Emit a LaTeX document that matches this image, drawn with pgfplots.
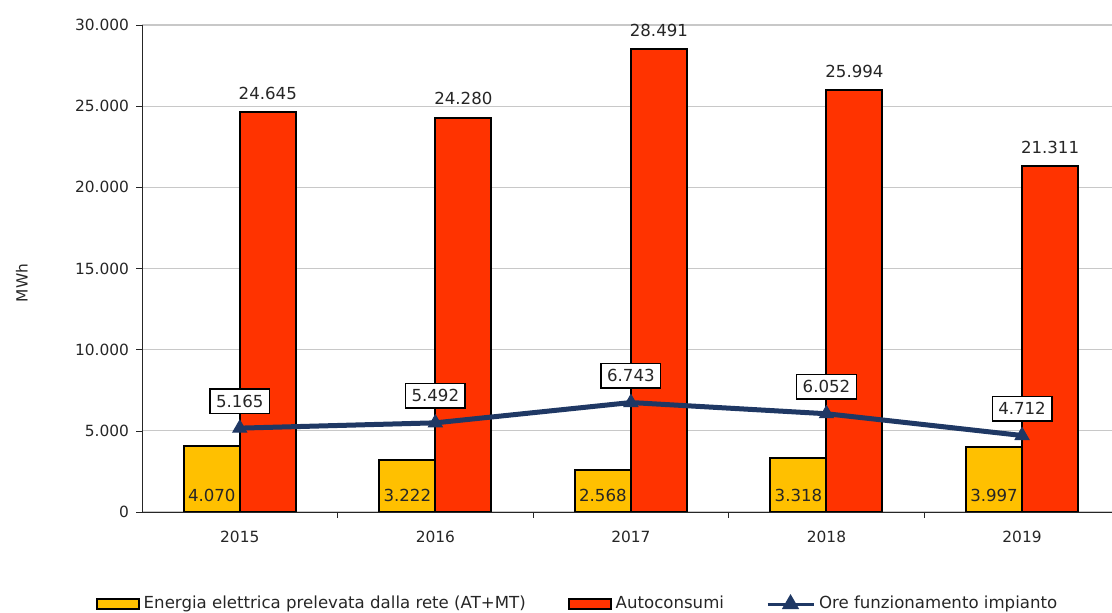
\documentclass[border=0pt]{standalone}
\usepackage{pgfplots}
\pgfplotsset{compat=1.18}
\usepackage{fontspec}
\setmainfont{DejaVu Sans}
\definecolor{ygold}{HTML}{FFC000}
\definecolor{rred}{HTML}{FF3300}
\definecolor{navy}{HTML}{1F3864}
\definecolor{gridgray}{HTML}{C8C8C8}

\begin{document}
\begin{tikzpicture}[font=\fontsize{7.7}{9.2}\selectfont]
\path[use as bounding box] (0,0) rectangle (556pt,306.5pt);
\begin{axis}[
    at={(71pt,50.5pt)}, anchor=south west,
    scale only axis, width=485pt, height=243.5pt,
    xmin=-0.5, xmax=4.46, ymin=0, ymax=30000,
    axis x line*=bottom, axis y line*=left,
    axis line style={black!85, -},
    xtick={0,...,4}, xticklabels={2015,2016,2017,2018,2019},
    major x tick style={draw=none},
    minor xtick={0.5,1.5,2.5,3.5},
    minor tick length=3pt,
    xticklabel style={yshift=-3pt},
    ytick={0,5000,...,30000},
    major tick length=3pt, tick align=outside,
    tick style={black!85},
    ticklabel style={text=black!85},
    ymajorgrids, grid style={gridgray, line width=0.6pt},
    scaled y ticks=false,
    ylabel={MWh},
    ylabel style={at={(axis description cs:-0.124,0.47)}, anchor=center, text=black!85},
    legend style={draw=none, fill=none, at={(0.45,-0.189)}, anchor=center,
        legend columns=3, inner sep=0pt, text=black!85,
        font=\fontsize{8.3}{10}\selectfont,
        /tikz/every even column/.append style={column sep=19pt},
        cells={anchor=west}},
    nodes near coords style={font=\fontsize{8.3}{10}\selectfont},
    /pgf/number format/1000 sep={.},
    /pgf/number format/assume math mode=true,
]

\addplot[ybar, bar width=28pt, bar shift=-14pt, fill=ygold, draw=black, line width=1pt,
    legend image code/.code={\draw[fill=ygold,draw=black,line width=1pt] (0pt,-2.5pt) rectangle (21pt,2.5pt);}]
    coordinates {(0,4070) (1,3222) (2,2568) (3,3318) (4,3997)};
\addlegendentry{Energia elettrica prelevata dalla rete (AT+MT)}

\addplot[ybar, bar width=28pt, bar shift=14pt, fill=rred, draw=black, line width=1pt,
    nodes near coords,
    every node near coord/.append style={anchor=south, xshift=14pt, yshift=2.5pt, text=black!85},
    legend image code/.code={\draw[fill=rred,draw=black,line width=1pt] (0pt,-2.5pt) rectangle (21pt,2.5pt);}]
    coordinates {(0,24645) (1,24280) (2,28491) (3,25994) (4,21311)};
\addlegendentry{Autoconsumi}

% labels at the foot of the yellow bars
\addplot[draw=none, mark=none, forget plot, point meta=explicit,
    nodes near coords,
    every node near coord/.append style={anchor=south, xshift=-14pt, yshift=1.5pt, text=black!85}]
    coordinates {(0,0) [4070] (1,0) [3222] (2,0) [2568] (3,0) [3318] (4,0) [3997]};

\addplot[navy, line width=2.5pt, mark=triangle*, mark size=4pt,
    mark options={line width=0.5pt},
    nodes near coords,
    every node near coord/.append style={anchor=south, yshift=7pt, draw=black,
        fill=white, line width=0.7pt, inner xsep=3pt, inner ysep=3pt, text=black!85},
    legend image code/.code={\draw[navy,line width=1.5pt] (0pt,0pt) -- (23pt,0pt);
        \fill[navy] (11.5pt,0pt) +(90:2.5pt) -- +(210:2.5pt) -- +(330:2.5pt) -- cycle;}]
    coordinates {(0,5165) (1,5492) (2,6743) (3,6052) (4,4712)};
\addlegendentry{Ore funzionamento impianto}
\end{axis}
\end{tikzpicture}
\end{document}
